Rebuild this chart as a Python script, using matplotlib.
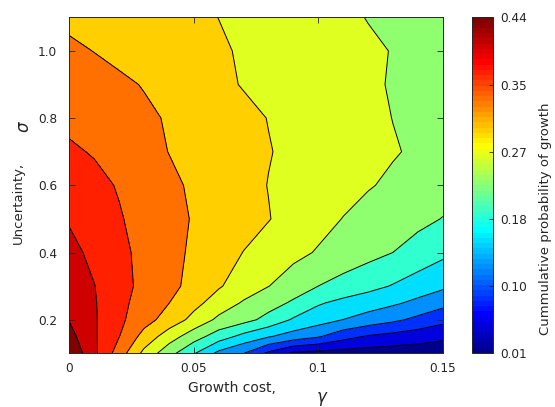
import matplotlib
matplotlib.use("Agg")
import matplotlib.pyplot as plt
import numpy as np
from matplotlib import cm, colors

# growth cost (x) and uncertainty (y) grid
gamma = [0.00, 0.01, 0.02, 0.03, 0.04, 0.05, 0.06, 0.07,
         0.08, 0.09, 0.10, 0.11, 0.12, 0.13, 0.14, 0.15]
sigma = [0.10, 0.15, 0.20, 0.25, 0.30, 0.40, 0.50, 0.60, 0.70, 0.80, 0.90, 1.00, 1.10]

# cumulative probability of growth, one row per sigma value
prob = [
    [0.454, 0.394, 0.333, 0.269, 0.220, 0.174, 0.126, 0.100, 0.056, 0.021, 0.016, 0.013, 0.011, 0.009, 0.008, 0.007],
    [0.434, 0.391, 0.351, 0.302, 0.260, 0.223, 0.189, 0.160, 0.138, 0.120, 0.103, 0.077, 0.060, 0.052, 0.044, 0.035],
    [0.420, 0.390, 0.358, 0.328, 0.300, 0.268, 0.235, 0.219, 0.196, 0.167, 0.151, 0.135, 0.121, 0.107, 0.091, 0.074],
    [0.416, 0.389, 0.360, 0.336, 0.315, 0.289, 0.263, 0.239, 0.221, 0.202, 0.175, 0.162, 0.152, 0.141, 0.127, 0.111],
    [0.409, 0.387, 0.363, 0.341, 0.324, 0.304, 0.282, 0.262, 0.2435, 0.225, 0.207, 0.194, 0.182, 0.169, 0.155, 0.142],
    [0.396, 0.378, 0.359, 0.341, 0.325, 0.309, 0.293, 0.278, 0.265, 0.252, 0.240, 0.229, 0.218, 0.207, 0.193, 0.179],
    [0.383, 0.368, 0.353, 0.339, 0.326, 0.312, 0.302, 0.291, 0.280, 0.267, 0.254, 0.242, 0.233, 0.225, 0.216, 0.206],
    [0.369, 0.359, 0.348, 0.335, 0.321, 0.310, 0.299, 0.288, 0.278, 0.270, 0.262, 0.254, 0.245, 0.238, 0.230, 0.221],
    [0.355, 0.348, 0.337, 0.325, 0.314, 0.306, 0.297, 0.288, 0.280, 0.273, 0.266, 0.259, 0.252, 0.245, 0.239, 0.232],
    [0.343, 0.335, 0.328, 0.320, 0.312, 0.304, 0.295, 0.286, 0.278, 0.271, 0.264, 0.257, 0.250, 0.2425, 0.238, 0.232],
    [0.331, 0.325, 0.320, 0.313, 0.303, 0.295, 0.285, 0.277, 0.271, 0.265, 0.259, 0.253, 0.247, 0.241, 0.236, 0.230],
    [0.320, 0.314, 0.307, 0.301, 0.295, 0.288, 0.282, 0.276, 0.270, 0.265, 0.259, 0.253, 0.247, 0.242, 0.236, 0.230],
    [0.308, 0.303, 0.298, 0.293, 0.288, 0.284, 0.2785, 0.273, 0.267, 0.260, 0.254, 0.248, 0.242, 0.236, 0.230, 0.225],
]

xticks = [0, 0.05, 0.1, 0.15]
xticklabels = ["0", "0.05", "0.1", "0.15"]
yticks = [0.2, 0.4, 0.6, 0.8, 1.0]
yticklabels = ["0.2", "0.4", "0.6", "0.8", "1.0"]
cbar_ticks = [0.01, 0.096, 0.182, 0.268, 0.354, 0.44]
cbar_labels = ["0.01", "0.10", "0.18", "0.27", "0.35", "0.44"]

TXT = "#262626"
plt.rcParams["font.family"] = "DejaVu Sans"


def matlab_jet(m=64):
    # same construction as MATLAB's jet(m)
    n = int(np.ceil(m / 4))
    u = np.concatenate([np.arange(1, n + 1) / n, np.ones(n - 1), np.arange(n, 0, -1) / n])
    g = int(np.ceil(n / 2)) - int(m % 4 == 1) + np.arange(1, len(u) + 1)
    r = g + n
    b = g - n
    J = np.zeros((m, 3))
    gm = g[g <= m]
    rm = r[r <= m]
    bm = b[b >= 1]
    J[gm - 1, 1] = u[:len(gm)]
    J[rm - 1, 0] = u[:len(rm)]
    J[bm - 1, 2] = u[len(u) - len(bm):]
    return colors.ListedColormap(J)


jet = matlab_jet(64)

fig = plt.figure(figsize=(5.55, 4.07), dpi=100)
ax = fig.add_axes([0.1252, 0.1319, 0.6725, 0.8256])
cax = fig.add_axes([0.850, 0.1319, 0.039, 0.8256])

vmin, vmax = 0.01, 0.44
step = (vmax - vmin) / 12
levels = vmin + step * (np.arange(14) - 0.5)
norm = colors.Normalize(vmin, vmax)

ax.contourf(gamma, sigma, prob, levels=levels, cmap=jet, norm=norm)
ax.contour(gamma, sigma, prob, levels=levels[1:-1], colors="k", linewidths=0.7)

ax.set_xlim(0, 0.15)
ax.set_ylim(0.1, 1.1)
ax.set_xticks(xticks)
ax.set_xticklabels(xticklabels)
ax.set_yticks(yticks)
ax.set_yticklabels(yticklabels)
ax.tick_params(direction="in", top=True, right=True, length=4, width=0.6,
               color=TXT, labelcolor=TXT, labelsize=8.7)
ax.tick_params(axis="x", pad=6)
ax.tick_params(axis="y", pad=9)
for s in ax.spines.values():
    s.set_color(TXT)
    s.set_linewidth(0.7)

# axis labels (MATLAB style: symbol offset from the text)
ax.text(0.435, -0.103, "Growth cost,", transform=ax.transAxes, ha="center",
        va="center", fontsize=10, color=TXT)
ax.text(0.677, -0.136, r"$\gamma$", transform=ax.transAxes, ha="center",
        va="center", fontsize=12, color=TXT)
ax.text(-0.138, 0.447, "Uncertainty,", transform=ax.transAxes, ha="center",
        va="center", fontsize=9.5, color=TXT, rotation=90)
ax.text(-0.122, 0.676, r"$\sigma$", transform=ax.transAxes, ha="center",
        va="center", fontsize=12, color=TXT, rotation=90)

cb = fig.colorbar(cm.ScalarMappable(norm=norm, cmap=jet), cax=cax)
cb.set_ticks(cbar_ticks)
cb.set_ticklabels(cbar_labels)
cb.ax.tick_params(direction="in", length=3, width=0.6, color=TXT,
                  labelcolor=TXT, labelsize=8.7, pad=5)
cb.outline.set_edgecolor(TXT)
cb.outline.set_linewidth(0.7)
cax.text(3.39, 0.40, "Cummulative probability of growth", transform=cax.transAxes,
         rotation=90, ha="center", va="center", fontsize=9.5, color=TXT)

fig.savefig("out.png", dpi=100)
